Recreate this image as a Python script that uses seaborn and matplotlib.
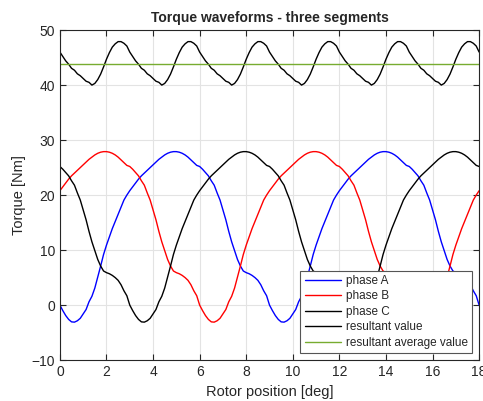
import numpy as np
import pandas as pd
import matplotlib
matplotlib.use("Agg")
import matplotlib.pyplot as plt
import seaborn as sns

# one period (9 deg) of phase A torque [Nm], read every 0.125 deg
step = 0.125
phase_a_period = [0.0, -1.0, -1.9, -2.6, -3.05, -3.1, -2.85, -2.4,
                  -1.6, -0.8, 0.6, 1.6, 3.1, 5.1, 7.1, 9.2,
                  10.9, 12.4, 13.9, 15.2, 16.5, 17.8, 19.1, 20.0,
                  20.8, 21.5, 22.2, 22.9, 23.5, 24.0, 24.5, 25.0,
                  25.5, 26.0, 26.5, 26.9, 27.3, 27.6, 27.8, 27.9,
                  27.9, 27.8, 27.6, 27.3, 26.9, 26.4, 25.9, 25.4,
                  25.2, 24.7, 24.1, 23.5, 22.6, 21.8, 20.4, 19.1,
                  17.3, 15.5, 13.4, 11.5, 9.9, 8.3, 7.1, 6.2,
                  5.9, 5.7, 5.4, 5.0, 4.5, 3.7, 2.6, 1.7]
shift_b = 3.0   # phase B = phase A taken 3 deg later
shift_c = 6.0   # phase C = phase A taken 6 deg later
avg_value = 43.8
x_max = 18

n = len(phase_a_period)
pos = np.arange(0, x_max + step / 2, step)
idx = np.arange(len(pos)) % n
a_per = np.array(phase_a_period)
phase_a = a_per[idx]
phase_b = a_per[(idx + int(shift_b / step)) % n]
phase_c = a_per[(idx + int(shift_c / step)) % n]
resultant = phase_a + phase_b + phase_c

df = pd.concat([
    pd.DataFrame({"pos": pos, "torque": phase_a, "series": "phase A"}),
    pd.DataFrame({"pos": pos, "torque": phase_b, "series": "phase B"}),
    pd.DataFrame({"pos": pos, "torque": phase_c, "series": "phase C"}),
    pd.DataFrame({"pos": pos, "torque": resultant, "series": "resultant value"}),
    pd.DataFrame({"pos": [pos[0], pos[-1]], "torque": [avg_value, avg_value],
                  "series": "resultant average value"}),
])
colors = {"phase A": "#0000ff", "phase B": "#ff0000", "phase C": "#000000",
          "resultant value": "#000000", "resultant average value": "#77ac30"}

sns.set_style("ticks")
plt.rcParams['font.family'] = ['Liberation Sans', 'DejaVu Sans']

fig = plt.figure(figsize=(4.83, 4.01), dpi=100)
ax = fig.add_axes([0.124, 0.102, 0.868, 0.823])
sns.lineplot(data=df, x="pos", y="torque", hue="series", palette=colors,
             linewidth=1.0, ax=ax, sort=False, estimator=None)

ax.set_xlim(0, x_max)
ax.set_ylim(-10, 50)
ax.set_xticks(np.arange(0, 19, 2))
ax.set_yticks(np.arange(-10, 51, 10))
ax.grid(True, color="#e3e3e3", linewidth=0.8)
ax.set_axisbelow(True)
ax.tick_params(direction="in", length=4, width=0.8, top=True, right=True,
               labelsize=10, colors="#262626", labelcolor="#262626")
for s in ax.spines.values():
    s.set_color("#262626")
    s.set_linewidth(0.8)
ax.set_xlabel("Rotor position [deg]", fontsize=10.5, color="#262626")
ax.set_ylabel("Torque [Nm]", fontsize=10.5, color="#262626")
ax.set_title("Torque waveforms - three segments", fontsize=10, fontweight="bold", pad=6)

leg = ax.legend(loc="lower right", fontsize=8.5, frameon=True, fancybox=False,
                framealpha=1, edgecolor="#555555", handlelength=3.1,
                borderaxespad=0.6, labelspacing=0.3, borderpad=0.35, handletextpad=0.4)
leg.get_frame().set_linewidth(0.8)

fig.savefig("out.png", dpi=100)
